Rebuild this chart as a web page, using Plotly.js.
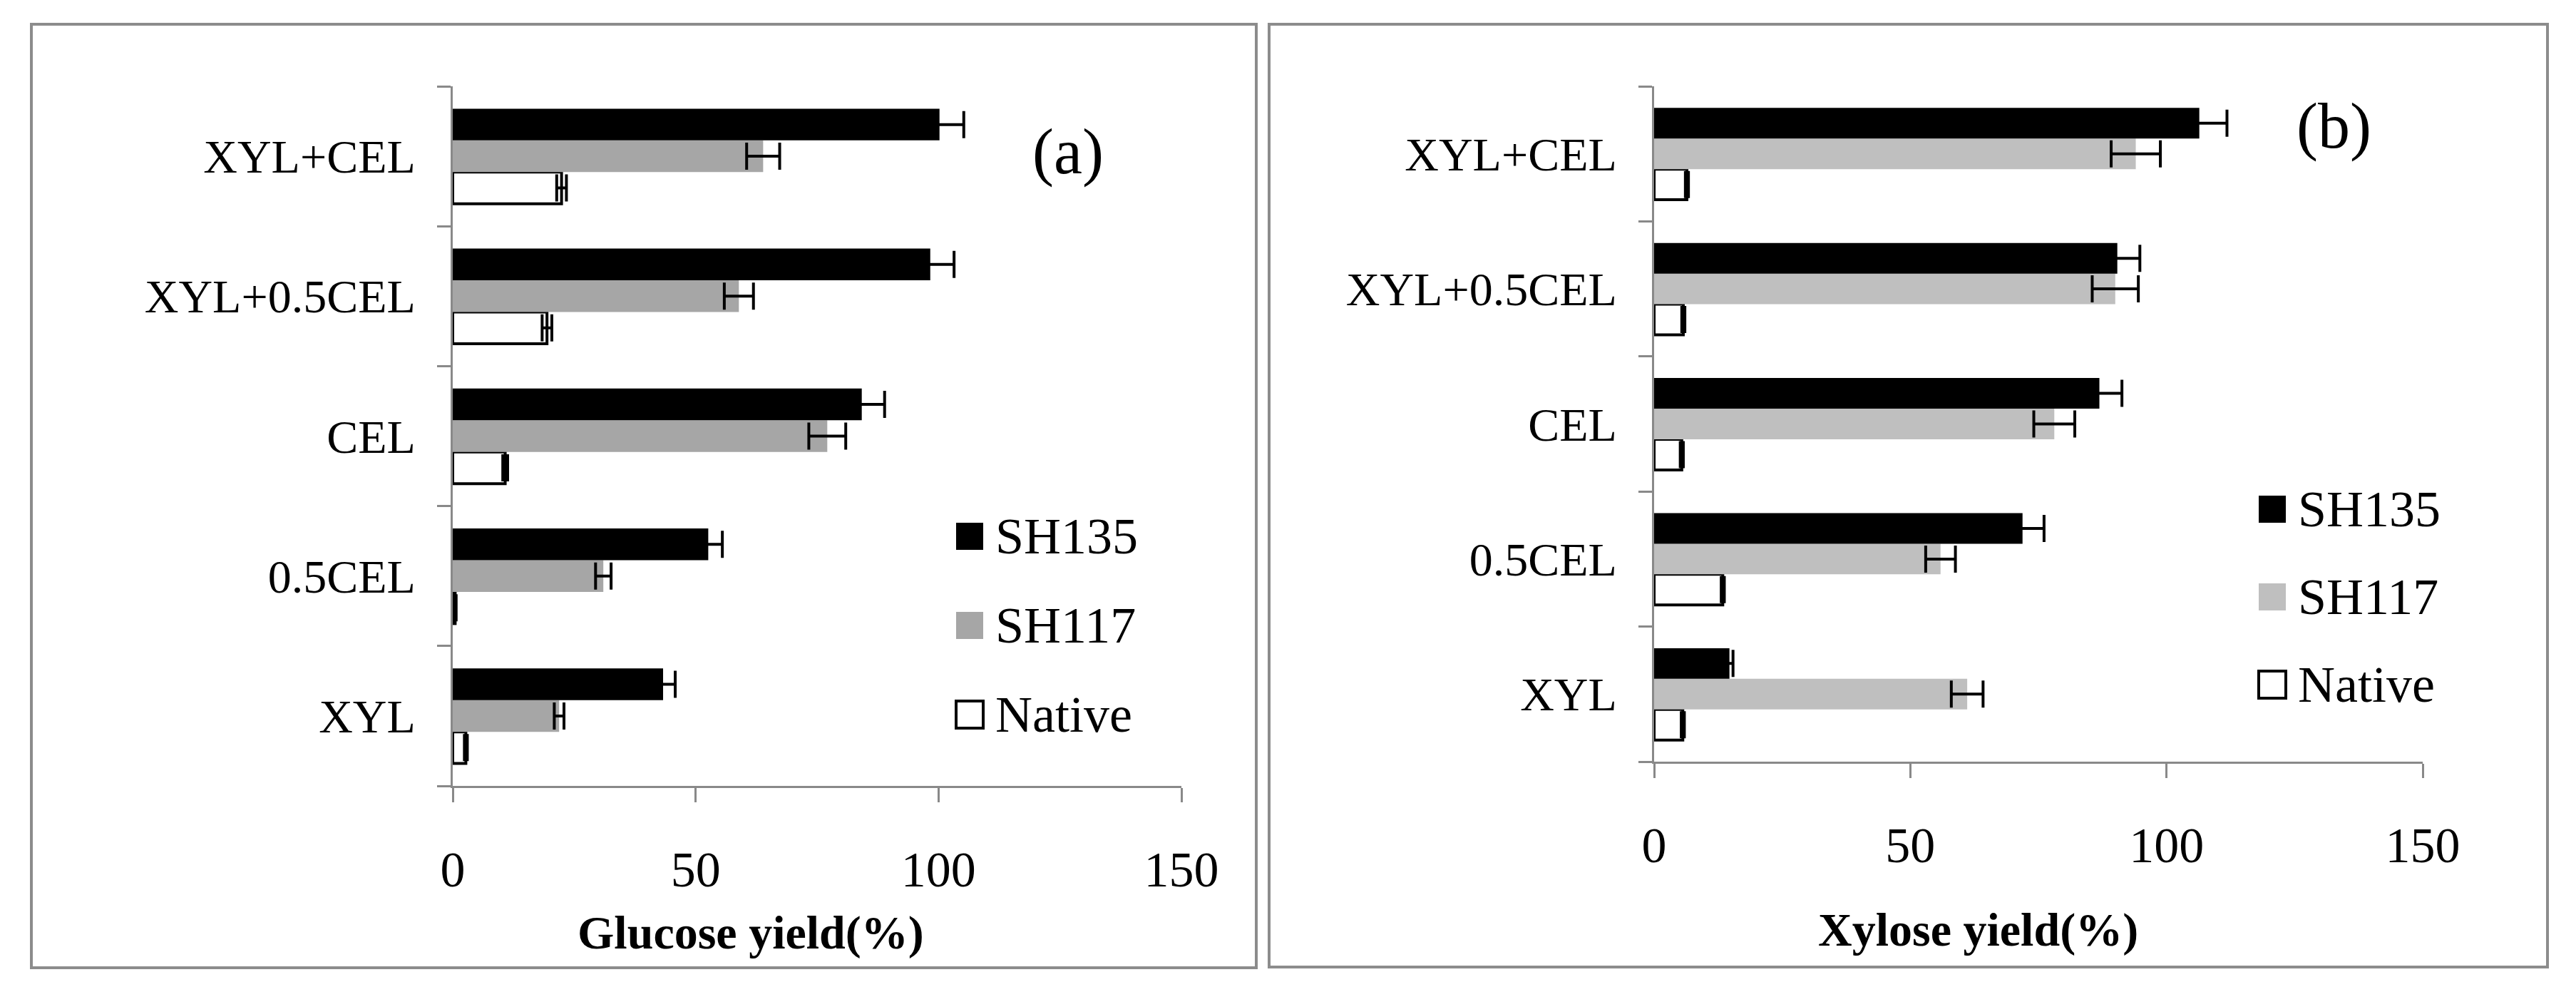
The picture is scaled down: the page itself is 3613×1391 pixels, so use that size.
<!DOCTYPE html>
<html>
<head>
<meta charset="utf-8">
<script src="https://cdn.plot.ly/plotly-3.0.1.min.js"></script>
<style>
  html, body { margin: 0; padding: 0; background: #fff; }
  #chart { width: 3613px; height: 1391px; }
</style>
</head>
<body>
<div id="chart"></div>
<script>
// categories, bottom to top
var categories = ["XYL", "0.5CEL", "CEL", "XYL+0.5CEL", "XYL+CEL"];
var seriesNames = ["SH135", "SH117", "Native"];

// (a) glucose yield (%)
var glucoseSH135 = [43.3, 52.6, 84.2, 98.3, 100.2];
var glucoseSH135Err = [2.5, 2.9, 4.7, 4.9, 5.0];
var glucoseSH117 = [21.9, 31.0, 77.1, 58.9, 63.9];
var glucoseSH117Err = [1.0, 1.6, 3.8, 3.0, 3.4];
var glucoseNative = [2.7, 0.5, 10.8, 19.4, 22.4];
var glucoseNativeErr = [0.3, 0.2, 0.5, 1.0, 1.0];

// (b) xylose yield (%)
var xyloseSH135 = [14.7, 71.9, 86.9, 90.4, 106.4];
var xyloseSH135Err = [0.7, 4.2, 4.4, 4.4, 5.4];
var xyloseSH117 = [61.1, 55.9, 78.1, 90.0, 94.0];
var xyloseSH117Err = [3.1, 2.9, 4.0, 4.5, 4.8];
var xyloseNative = [5.6, 13.4, 5.4, 5.7, 6.4];
var xyloseNativeErr = [0.3, 0.3, 0.3, 0.3, 0.3];

var xTicks = [0, 50, 100, 150];

var W = 3613, H = 1391;
function px(x) { return x / W; }
function py(y) { return 1 - y / H; }

var serif = "Liberation Serif, Times New Roman, serif";
var axisGray = "#898989";
var leftGray = "#A6A6A6";
var rightGray = "#BFBFBF";

function errBar(arr) {
  return {type: "data", array: arr, visible: true, color: "#000", thickness: 4, width: 19};
}

function makeTraces(vals, errs, gray, xa, ya) {
  // Native first so it sits at the bottom of each group
  return [
    {type: "bar", orientation: "h", name: seriesNames[2], y: categories, x: vals[2],
     xaxis: xa, yaxis: ya, error_x: errBar(errs[2]),
     marker: {color: "#fff", line: {color: "#000", width: 4}}},
    {type: "bar", orientation: "h", name: seriesNames[1], y: categories, x: vals[1],
     xaxis: xa, yaxis: ya, error_x: errBar(errs[1]),
     marker: {color: gray, line: {width: 0}}},
    {type: "bar", orientation: "h", name: seriesNames[0], y: categories, x: vals[0],
     xaxis: xa, yaxis: ya, error_x: errBar(errs[0]),
     marker: {color: "#000", line: {width: 0}}}
  ];
}

var data = makeTraces([glucoseSH135, glucoseSH117, glucoseNative],
                      [glucoseSH135Err, glucoseSH117Err, glucoseNativeErr], leftGray, "x", "y")
  .concat(makeTraces([xyloseSH135, xyloseSH117, xyloseNative],
                     [xyloseSH135Err, xyloseSH117Err, xyloseNativeErr], rightGray, "x2", "y2"));

function xAxis(domain, anchor) {
  return {
    domain: domain, anchor: anchor, range: [0, 150], tickvals: xTicks,
    showgrid: false, zeroline: false, showline: true, linecolor: axisGray, linewidth: 3,
    ticks: "outside", ticklen: 20, tickwidth: 3, tickcolor: axisGray,
    ticklabelstandoff: 34, tickfont: {family: serif, size: 70, color: "#000"}, fixedrange: true
  };
}
function yAxis(domain, anchor) {
  return {
    domain: domain, anchor: anchor, type: "category",
    categoryorder: "array", categoryarray: categories, range: [-0.5, 4.5],
    showgrid: false, zeroline: false, showline: true, linecolor: axisGray, linewidth: 3,
    ticks: "outside", tickson: "boundaries", ticklen: 19, tickwidth: 3, tickcolor: axisGray,
    ticklabelstandoff: 36, tickfont: {family: serif, size: 66, color: "#000"}, fixedrange: true
  };
}

// panel frames
var shapes = [
  {type: "rect", xref: "paper", yref: "paper", x0: px(44), x1: px(1762), y0: py(1357), y1: py(34),
   line: {color: "#8c8c8c", width: 4}},
  {type: "rect", xref: "paper", yref: "paper", x0: px(1780), x1: px(3573), y0: py(1356), y1: py(34),
   line: {color: "#8c8c8c", width: 4}}
];

var annotations = [
  {text: "(a)", x: px(1498), y: py(213)},
  {text: "(b)", x: px(3273), y: py(177)}
].map(function(a) {
  return {text: a.text, x: a.x, y: a.y, xref: "paper", yref: "paper", showarrow: false,
          xanchor: "center", yanchor: "middle", font: {family: serif, size: 90, color: "#000"}};
});

annotations.push(
  {text: "<b>Glucose yield(%)</b>", x: px(1053), y: py(1308), xref: "paper", yref: "paper",
   showarrow: false, xanchor: "center", yanchor: "middle", font: {family: serif, size: 66, color: "#000"}},
  {text: "<b>Xylose yield(%)</b>", x: px(2774), y: py(1304), xref: "paper", yref: "paper",
   showarrow: false, xanchor: "center", yanchor: "middle", font: {family: serif, size: 66, color: "#000"}}
);

// hand-made legends (large squares like the original)
function addLegend(sqX, textX, rowsY, gray) {
  var fills = ["#000", gray, "#fff"];
  seriesNames.forEach(function(name, i) {
    var cy = rowsY[i];
    shapes.push({type: "rect", xref: "paper", yref: "paper",
      x0: px(sqX), x1: px(sqX + 38), y0: py(cy + 19), y1: py(cy - 19),
      fillcolor: fills[i], line: {color: "#000", width: i === 2 ? 4 : 0}});
    annotations.push({text: name, x: px(textX), y: py(cy), xref: "paper", yref: "paper",
      showarrow: false, xanchor: "left", yanchor: "middle",
      font: {family: serif, size: 72, color: "#000"}});
  });
}
addLegend(1341, 1394, [752, 877, 1002], leftGray);
addLegend(3168, 3221, [714, 837, 960], rightGray);

var layout = {
  width: W, height: H,
  margin: {l: 0, r: 0, t: 0, b: 0},
  paper_bgcolor: "#fff", plot_bgcolor: "#fff",
  showlegend: false,
  barmode: "group", bargap: 0.32, bargroupgap: 0,
  xaxis: xAxis([px(635), px(1657)], "y"),
  yaxis: yAxis([py(1102), py(121)], "x"),
  xaxis2: xAxis([px(2320), px(3398)], "y2"),
  yaxis2: yAxis([py(1068), py(121)], "x2"),
  shapes: shapes,
  annotations: annotations
};

Plotly.newPlot("chart", data, layout, {staticPlot: true});
</script>
</body>
</html>
